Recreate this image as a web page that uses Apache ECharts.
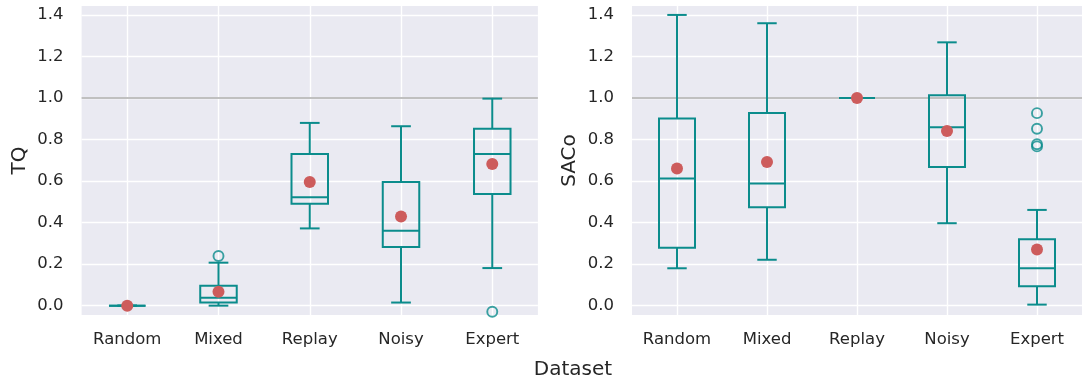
<!DOCTYPE html>
<html lang="en">
<head>
    <meta charset="UTF-8">
    <title>TQ / SACo boxplots</title>
    <script src="https://cdn.jsdelivr.net/npm/echarts@6/dist/echarts.min.js"></script>
    <style>
        html, body { margin: 0; padding: 0; background: #fff; }
        #box { width: 1082px; height: 381px; }
    </style>
</head>
<body>
    <div id="box"></div>
    <script>
        // data
        var categories = ['Random', 'Mixed', 'Replay', 'Noisy', 'Expert'];
        var yTicks = [0, 0.2, 0.4, 0.6, 0.8, 1.0, 1.2, 1.4];

        // [min, q1, median, q3, max] per dataset
        var tqBoxes = [
            [0, 0, 0, 0, 0],
            [0, 0.015, 0.038, 0.096, 0.207],
            [0.372, 0.491, 0.522, 0.730, 0.880],
            [0.015, 0.283, 0.361, 0.596, 0.864],
            [0.181, 0.538, 0.730, 0.852, 0.997]
        ];
        var tqMeans = [0, 0.067, 0.596, 0.429, 0.682];
        var tqOutliers = [[1, 0.239], [4, -0.029]];

        var sacoBoxes = [
            [0.180, 0.279, 0.612, 0.901, 1.400],
            [0.221, 0.474, 0.588, 0.928, 1.360],
            [1.0, 1.0, 1.0, 1.0, 1.0],
            [0.397, 0.668, 0.859, 1.013, 1.268],
            [0.005, 0.093, 0.180, 0.320, 0.461]
        ];
        var sacoMeans = [0.661, 0.692, 1.0, 0.841, 0.270];
        var sacoOutliers = [[4, 0.927], [4, 0.852], [4, 0.777], [4, 0.767]];

        var teal = '#0b8c8c';
        var red = '#cd5c5c';
        var ink = '#262626';
        var font = 'DejaVu Sans';

        function boxRows(boxes) {
            return boxes.map(function (b, i) { return [i].concat(b); });
        }
        function meanRows(means) {
            return means.map(function (m, i) { return [i, m]; });
        }

        // box + whiskers, caps half the box width (matplotlib style)
        function renderBox(params, api) {
            var x = api.value(0);
            var lo = api.coord([x, api.value(1)]);
            var q1 = api.coord([x, api.value(2)]);
            var md = api.coord([x, api.value(3)]);
            var q3 = api.coord([x, api.value(4)]);
            var hi = api.coord([x, api.value(5)]);
            var band = api.size([1, 0])[0];
            var hw = band * 0.2;
            var cw = band * 0.108;
            var cx = md[0];
            var line = { stroke: teal, lineWidth: 2, fill: null };
            return {
                type: 'group',
                children: [
                    { type: 'line', shape: { x1: cx, y1: q1[1], x2: cx, y2: lo[1] }, style: line },
                    { type: 'line', shape: { x1: cx, y1: q3[1], x2: cx, y2: hi[1] }, style: line },
                    { type: 'line', shape: { x1: cx - cw, y1: lo[1], x2: cx + cw, y2: lo[1] }, style: line },
                    { type: 'line', shape: { x1: cx - cw, y1: hi[1], x2: cx + cw, y2: hi[1] }, style: line },
                    { type: 'rect', shape: { x: cx - hw, y: q3[1], width: hw * 2, height: q1[1] - q3[1] }, style: line },
                    { type: 'line', shape: { x1: cx - hw, y1: md[1], x2: cx + hw, y2: md[1] }, style: line }
                ]
            };
        }

        function xAxis(gridIndex) {
            return {
                type: 'category',
                gridIndex: gridIndex,
                data: categories,
                axisLine: { show: false },
                axisTick: { show: false, alignWithLabel: true },
                axisLabel: { color: ink, fontSize: 16.5, fontFamily: font, margin: 16 },
                splitLine: { show: true, alignWithLabel: true, lineStyle: { color: '#fff', width: 1.4 } }
            };
        }
        function yAxis(gridIndex, name) {
            return {
                type: 'value',
                gridIndex: gridIndex,
                min: -0.045,
                max: 1.443,
                name: name,
                nameLocation: 'middle',
                nameGap: 52,
                nameTextStyle: { color: ink, fontSize: 20, fontFamily: font },
                axisLine: { show: false },
                axisTick: { show: false, customValues: yTicks },
                axisLabel: {
                    color: ink, fontSize: 16.5, fontFamily: font, margin: 18,
                    customValues: yTicks,
                    formatter: function (v) { return v.toFixed(1); }
                },
                splitLine: { show: true, lineStyle: { color: '#fff', width: 1.4 } }
            };
        }

        function panelSeries(idx, boxes, means, outliers) {
            return [
                {
                    type: 'line', xAxisIndex: idx, yAxisIndex: idx, data: [], z: 1,
                    markLine: {
                        z: 1,
                        silent: true, symbol: 'none', label: { show: false },
                        lineStyle: { color: '#c0c0c0', width: 2.2, type: 'solid' },
                        data: [{ yAxis: 1 }]
                    }
                },
                {
                    type: 'custom', xAxisIndex: idx, yAxisIndex: idx, z: 3,
                    renderItem: renderBox,
                    encode: { x: 0, y: [1, 2, 3, 4, 5] },
                    data: boxRows(boxes)
                },
                {
                    type: 'scatter', xAxisIndex: idx, yAxisIndex: idx, z: 4,
                    symbol: 'circle', symbolSize: 10,
                    itemStyle: { color: 'rgba(0,0,0,0)', borderColor: teal, borderWidth: 1.9 },
                    data: outliers
                },
                {
                    type: 'scatter', xAxisIndex: idx, yAxisIndex: idx, z: 5,
                    symbol: 'circle', symbolSize: 12,
                    itemStyle: { color: red, opacity: 1 },
                    data: meanRows(means)
                }
            ];
        }

        var myChart = echarts.init(document.getElementById('box'));
        var option = {
            backgroundColor: '#fff',
            animation: false,
            textStyle: { fontFamily: font },
            grid: [
                { left: 81.6, top: 6, width: 456.3, height: 309, show: true, backgroundColor: '#eaeaf2', borderWidth: 0 },
                { left: 632, top: 6, width: 457, height: 309, show: true, backgroundColor: '#eaeaf2', borderWidth: 0 }
            ],
            xAxis: [xAxis(0), xAxis(1)],
            yAxis: [yAxis(0, 'TQ'), yAxis(1, 'SACo')],
            graphic: [{
                type: 'text', x: 573, y: 370,
                style: { text: 'Dataset', fill: ink, fontSize: 20, fontFamily: font, align: 'center', verticalAlign: 'middle' }
            }],
            series: panelSeries(0, tqBoxes, tqMeans, tqOutliers)
                .concat(panelSeries(1, sacoBoxes, sacoMeans, sacoOutliers))
        };
        myChart.setOption(option);
    </script>
</body>
</html>
